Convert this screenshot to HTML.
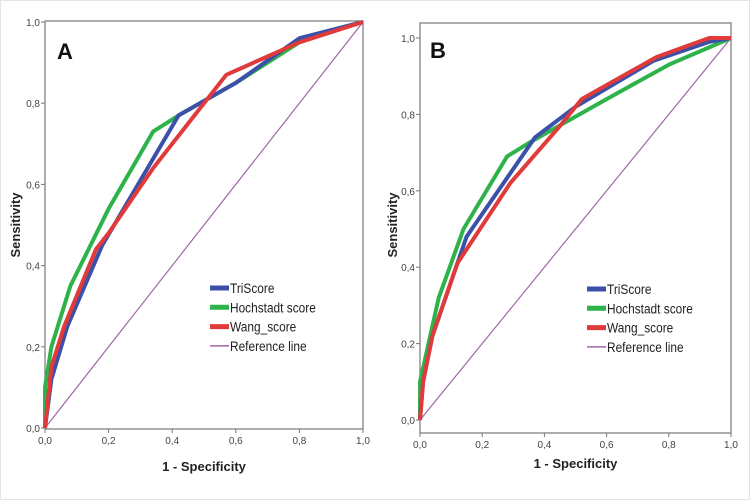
<!DOCTYPE html>
<html><head><meta charset="utf-8"><style>
body{margin:0;background:#fff;}
svg{display:block;font-family:"Liberation Sans",sans-serif;}
</style></head><body>
<svg id="c" width="750" height="500">
<rect x="0.5" y="0.5" width="749" height="499" fill="#fff" stroke="#e4e4e4"/>
</svg>
<script>
const ticks=[0,0.2,0.4,0.6,0.8,1.0];
const tickLabels=["0,0","0,2","0,4","0,6","0,8","1,0"];
const seriesNames=["TriScore","Hochstadt score","Wang_score","Reference line"];
const aTriX=[0,0.02,0.07,0.18,0.42,0.6,0.8,1];
const aTriY=[0,0.12,0.25,0.45,0.77,0.85,0.96,1];
const aHocX=[0,0,0.02,0.08,0.2,0.34,0.42,0.6,0.82,1];
const aHocY=[0,0.1,0.2,0.35,0.54,0.73,0.77,0.85,0.96,1];
const aWanX=[0,0.02,0.06,0.16,0.2,0.34,0.57,0.8,1];
const aWanY=[0,0.15,0.25,0.44,0.48,0.64,0.87,0.95,1];
const bTriX=[0,0.01,0.04,0.15,0.37,0.5,0.75,0.93,1];
const bTriY=[0,0.1,0.22,0.48,0.74,0.82,0.94,0.99,1];
const bHocX=[0,0,0.06,0.14,0.28,0.36,0.6,0.8,1];
const bHocY=[0,0.1,0.32,0.5,0.69,0.73,0.84,0.93,1];
const bWanX=[0,0.01,0.04,0.12,0.29,0.45,0.52,0.76,0.93,1];
const bWanY=[0,0.1,0.22,0.41,0.62,0.77,0.84,0.95,1.0,1];
const refX=[0,1], refY=[0,1];

const NS="http://www.w3.org/2000/svg";
const svg=document.getElementById('c');
function mk(t,a,p){const e=document.createElementNS(NS,t);for(const k in a)e.setAttribute(k,a[k]);(p||svg).appendChild(e);return e;}
const colors=["#3b50a8","#2db34a","#e03a3a","#a066a8"];

function panel(id,o,data){
  const g=mk('g',{});
  
  
  const sx=v=>o.x0+v*(o.x1-o.x0), sy=v=>o.y0-v*(o.y0-o.y1);
  const box=mk('rect',{x:o.bx0,y:o.by0,width:o.bx1-o.bx0,height:o.by1-o.by0,fill:'none',stroke:'#777','stroke-width':1.2},g);
  
  
  ticks.forEach((t,i)=>{
    const y=sy(t);
    const tl=mk('line',{x1:o.bx0-4,x2:o.bx0,y1:y,y2:y,stroke:'#777'},g);
    
    
    const yl=mk('text',{x:o.bx0-5,y:y+4,'text-anchor':'end','font-size':10,fill:'#444'},g);
    yl.textContent=tickLabels[i];
    
    
    const x=sx(t);
    const xt=mk('line',{x1:x,x2:x,y1:o.by1,y2:o.by1+4,stroke:'#777'},g);
    
    
    const xl=mk('text',{x:x,y:o.by1+15,'text-anchor':'middle','font-size':10,fill:'#444'},g);
    xl.textContent=tickLabels[i];
    
    
  });
  const order=[3,1,0,2];
  order.forEach(k=>{
    const [xs,ys]=data[k];
    const pts=xs.map((v,i)=>sx(v).toFixed(1)+','+sy(ys[i]).toFixed(1)).join(' ');
    const pl=mk('polyline',{points:pts,fill:'none',stroke:colors[k],'stroke-width':k==3?1.2:4,'stroke-linejoin':'round'},g);
    
    
  });
  const lt=mk('text',{x:o.lx,y:o.ly,'font-size':22,'font-weight':'bold',fill:'#111'},g);
  lt.textContent=id;
  
  
  seriesNames.forEach((n,i)=>{
    const y=o.legY+i*19.3;
    const sw=mk('line',{x1:o.legX,x2:o.legX+19,y1:y,y2:y,stroke:colors[i],'stroke-width':i==3?1.5:5},g);
    
    
    const tx=mk('text',{x:o.legX+20,y:y+5,'font-size':13.5,fill:'#222'},g);
    tx.textContent=n;
    
    
    const w=tx.getComputedTextLength();
    tx.setAttribute('textLength',(w*0.88).toFixed(1));
    tx.setAttribute('lengthAdjust','spacingAndGlyphs');
  });
  const xa=mk('text',{x:(o.bx0+o.bx1)/2,y:o.xtY,'text-anchor':'middle','font-size':13,'font-weight':'bold',fill:'#222'},g);
  xa.textContent='1 - Specificity';
  
  
  const ya=mk('text',{x:0,y:0,'text-anchor':'middle','font-size':13,'font-weight':'bold',fill:'#222',transform:`translate(${o.ytX},${o.ytY}) rotate(-90)`},g);
  ya.textContent='Sensitivity';
  
  
}
panel('A',{x0:45,x1:363,y0:428,y1:22,bx0:45,bx1:363,by0:21,by1:429,lx:57,ly:59,legX:210,legY:288,xtY:471,ytX:20,ytY:225},
 [[aTriX,aTriY],[aHocX,aHocY],[aWanX,aWanY],[refX,refY]]);
panel('B',{x0:420,x1:731,y0:420,y1:38,bx0:420,bx1:731,by0:23,by1:433,lx:430,ly:58,legX:587,legY:289,xtY:468,ytX:397,ytY:225},
 [[bTriX,bTriY],[bHocX,bHocY],[bWanX,bWanY],[refX,refY]]);
</script>
</body></html>
